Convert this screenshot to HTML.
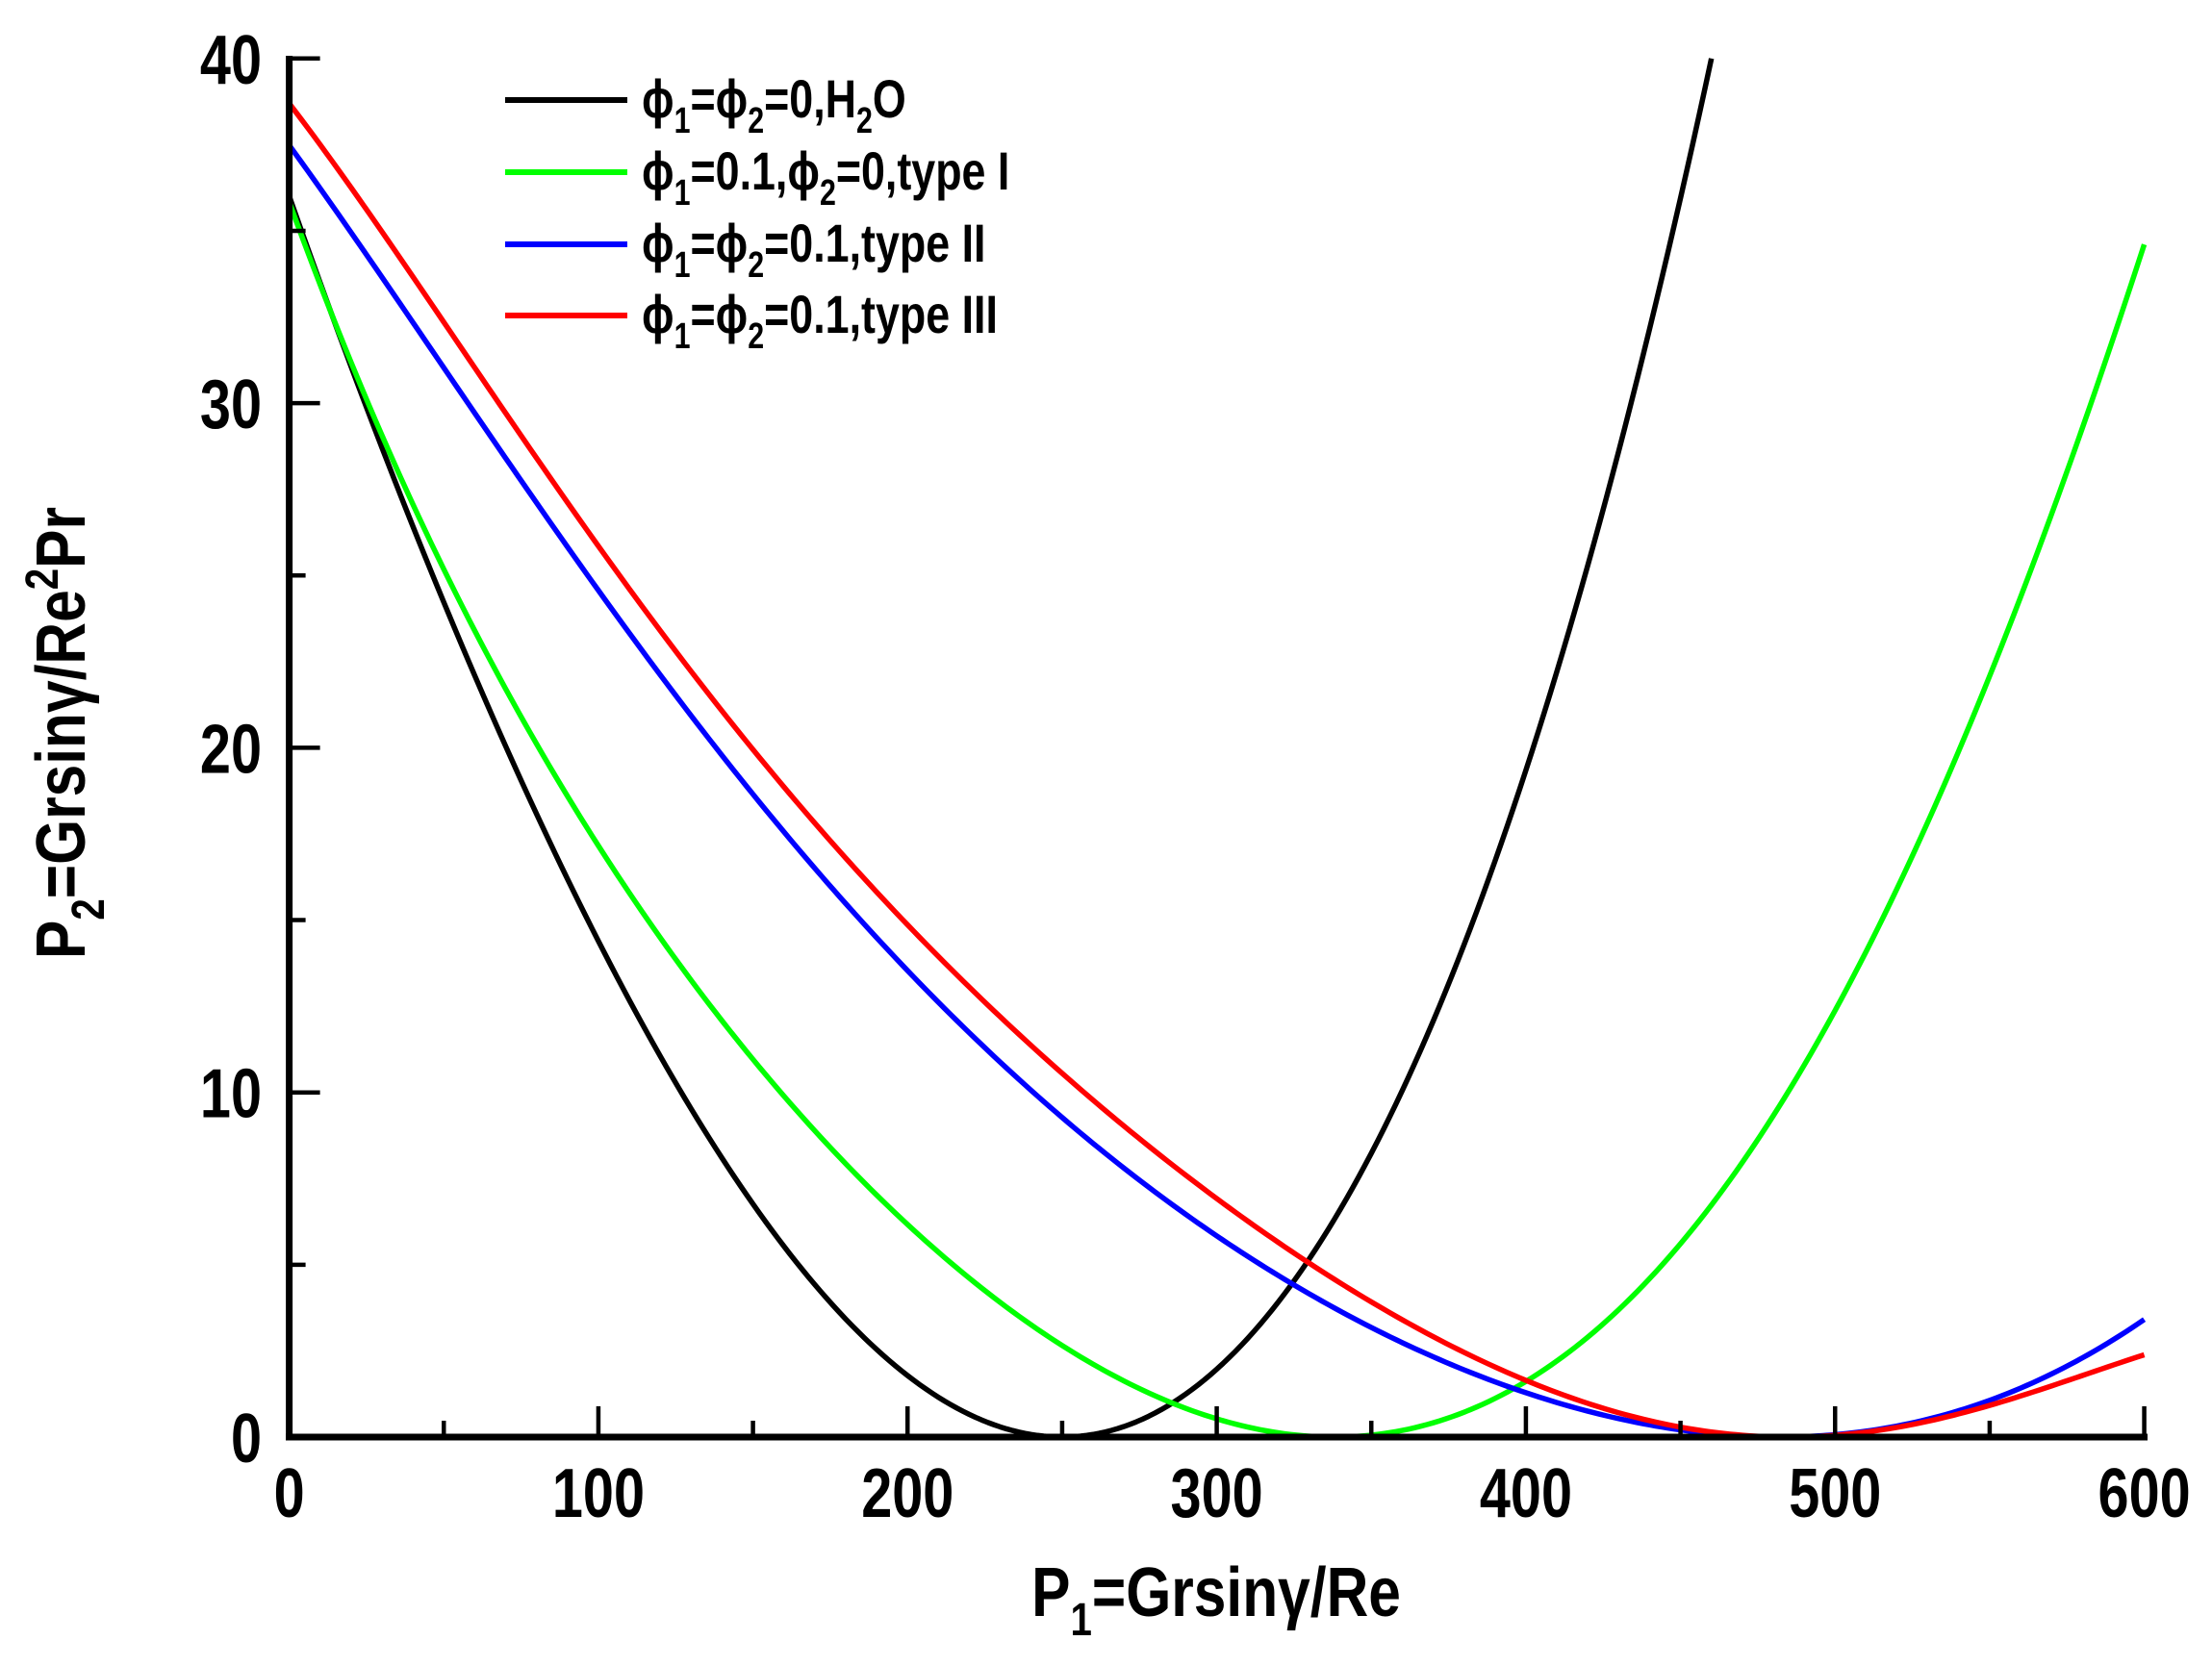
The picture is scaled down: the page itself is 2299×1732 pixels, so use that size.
<!DOCTYPE html>
<html><head><meta charset="utf-8"><style>
html,body{margin:0;padding:0;background:#fff}
svg{display:block}
text{font-family:"Liberation Sans",Arial,sans-serif;fill:#000;font-weight:bold}
</style></head><body>
<svg id="s" width="2299" height="1732" viewBox="0 0 2299 1732" xmlns="http://www.w3.org/2000/svg">
<g id="curves" fill="none" stroke-width="5.5" stroke-linejoin="round" stroke-linecap="butt"></g>
<g stroke="#000" stroke-width="7" fill="none">
<line x1="300.6" y1="58" x2="300.6" y2="1497"/>
<line x1="297" y1="1494" x2="2232" y2="1494"/>
</g>
<g id="ticks" stroke="#000" stroke-width="4.5"></g>
<g id="xl"></g>
<g id="yl"></g>
<g transform="translate(1264,1680) scale(0.84,1)"><text x="0" y="0" font-size="72" text-anchor="middle">P<tspan font-size="48" dy="20">1</tspan><tspan dy="-20">=Grsinγ/Re</tspan></text></g>
<g transform="translate(88,762) rotate(-90) scale(0.84,1)"><text x="0" y="0" font-size="72" text-anchor="middle">P<tspan font-size="48" dy="20">2</tspan><tspan dy="-20">=Grsinγ/Re</tspan><tspan font-size="48" dy="-28">2</tspan><tspan dy="28">Pr</tspan></text></g>
<g stroke-width="6">
<line x1="525" y1="104" x2="652" y2="104" stroke="#000"/>
<line x1="525" y1="179" x2="652" y2="179" stroke="#00ff00"/>
<line x1="525" y1="254" x2="652" y2="254" stroke="#0000ff"/>
<line x1="525" y1="328" x2="652" y2="328" stroke="#ff0000"/>
</g>
<g font-size="56">
<g transform="translate(667,122) scale(0.8,1)"><text>ϕ<tspan font-size="38" dy="16">1</tspan><tspan dy="-16">=ϕ</tspan><tspan font-size="38" dy="16">2</tspan><tspan dy="-16">=0,H</tspan><tspan font-size="38" dy="16">2</tspan><tspan dy="-16">O</tspan></text></g>
<g transform="translate(667,197) scale(0.8,1)"><text>ϕ<tspan font-size="38" dy="16">1</tspan><tspan dy="-16">=0.1,ϕ</tspan><tspan font-size="38" dy="16">2</tspan><tspan dy="-16">=0,type I</tspan></text></g>
<g transform="translate(667,272) scale(0.8,1)"><text>ϕ<tspan font-size="38" dy="16">1</tspan><tspan dy="-16">=ϕ</tspan><tspan font-size="38" dy="16">2</tspan><tspan dy="-16">=0.1,type II</tspan></text></g>
<g transform="translate(667,346) scale(0.8,1)"><text>ϕ<tspan font-size="38" dy="16">1</tspan><tspan dy="-16">=ϕ</tspan><tspan font-size="38" dy="16">2</tspan><tspan dy="-16">=0.1,type III</tspan></text></g>
</g>
</svg>
<script>
var NS="http://www.w3.org/2000/svg";
function X(x){return 300.6+x*3.2133}
function Y(y){return 1494-y*35.83}
function el(p,t,a){var e=document.createElementNS(NS,t);for(var k in a)e.setAttribute(k,a[k]);p.appendChild(e);return e}
var tk=document.getElementById('ticks');
for(var i=0;i<=12;i++){var x=X(i*50),L=(i%2==0)?32:17;el(tk,'line',{x1:x,y1:1494,x2:x,y2:1494-L});}
for(var i=0;i<=8;i++){var y=Y(i*5),L=(i%2==0)?32:17;el(tk,'line',{x1:300.6,y1:y,x2:300.6+L,y2:y});}
function lab(par,x,y,s,anchor){var g=el(par,'g',{transform:'translate('+x+','+y+') scale(0.8,1)'});var t=el(g,'text',{x:0,y:0,'font-size':72,'text-anchor':anchor});t.textContent=s;}
var xl=document.getElementById('xl');
for(var i=0;i<=6;i++)lab(xl,X(i*100),1577,String(i*100),'middle');
var yl=document.getElementById('yl');
for(var i=0;i<=4;i++)lab(yl,272,Y(i*10)+26,String(i*10),'end');
function solve(A,b){var n=b.length;for(var i=0;i<n;i++){var m=i;for(var r=i+1;r<n;r++)if(Math.abs(A[r][i])>Math.abs(A[m][i]))m=r;var t=A[i];A[i]=A[m];A[m]=t;t=b[i];b[i]=b[m];b[m]=t;for(var r=i+1;r<n;r++){var f=A[r][i]/A[i][i];for(var c=i;c<n;c++)A[r][c]-=f*A[i][c];b[r]-=f*b[i];}}var x=new Array(n);for(var i=n-1;i>=0;i--){var s=b[i];for(var c=i+1;c<n;c++)s-=A[i][c]*x[c];x[i]=s/A[i][i];}return x;}
function fit(pts,x0,deg){
 var n=deg+1,A=[],b=[];for(var i=0;i<n;i++){A.push(new Array(n).fill(0));b.push(0);}
 pts.forEach(function(p,idx){var w=(idx==0||idx==pts.length-1)?8:1;var u=(p[0]-x0)/100;if(Math.abs(u)<1e-9)return;var s=Math.sqrt(p[1])*(u<0?-1:1);var f=[];for(var k=0;k<n;k++)f.push(Math.pow(u,k+1));for(var i=0;i<n;i++){for(var j=0;j<n;j++)A[i][j]+=w*f[i]*f[j];b[i]+=w*f[i]*s;}});
 var c=solve(A,b);return function(x){var u=(x-x0)/100,s=0;for(var k=0;k<n;k++)s+=c[k]*Math.pow(u,k+1);return s*s;};}
var series=[
["#000000",250,[[0,36],[50,24.3],[100,14.5],[150,6.5],[200,1.86],[300,2.06],[350,8.4],[378.6,13.7],[404.4,20.6],[460,40]],0,460,4],
["#00ff00",338,[[0,35.6],[50,27.4],[100,18.6],[150,10.8],[200,4.9],[250,1.76],[300,0.4],[396,1.57],[450,6.2],[500,13],[550,22.5],[600,34.5]],0,600,3],
["#0000ff",482,[[0,37.5],[50,30.8],[100,24.5],[150,18.8],[200,13.7],[250,9.2],[300,5.8],[350,3.2],[404,1.0],[450,0.25],[500,0.12],[550,1.2],[600,3.4]],0,600,4],
["#ff0000",485,[[0,38.7],[50,32.2],[100,26.0],[150,20.0],[200,14.9],[250,10.4],[300,6.8],[350,4.0],[404,1.57],[450,0.45],[500,0.05],[550,0.7],[600,2.4]],0,600,4]];
var g=document.getElementById('curves');
series.forEach(function(s){var f=fit(s[2],s[1],s[5]);var d="";for(var x=s[3];x<=s[4]+1e-6;x+=2){var y=f(x);if(x==s[4]&&s[0]=="#000000")y=40;d+=(d?" L":"M")+X(x).toFixed(2)+","+Math.min(Y(y),1494).toFixed(2);}el(g,'path',{d:d,stroke:s[0]});});
</script>
</body></html>
